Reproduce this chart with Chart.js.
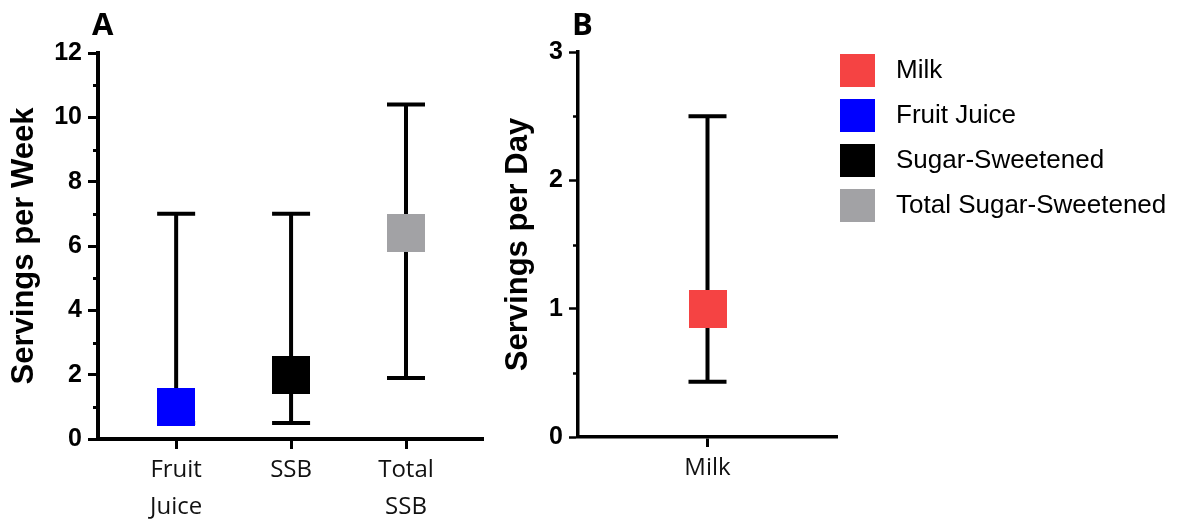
<!DOCTYPE html>
<html>
<head>
<meta charset="utf-8">
<script src="https://cdn.jsdelivr.net/npm/chart.js@4.4.1/dist/chart.umd.min.js"></script>
<style>
  body { margin: 0; background: #fff; overflow: hidden; }
  #wrap { position: relative; width: 1184px; height: 519px; overflow: hidden; background: #fff; }
  canvas { position: absolute; top: 0; }
  #chartA { left: 0; }
  #chartB { left: 490px; }
  #legendChart { left: 780px; }
</style>
</head>
<body>
<div id="wrap">
  <canvas id="chartA" width="530" height="519"></canvas>
  <canvas id="chartB" width="390" height="519"></canvas>
  <canvas id="legendChart" width="520" height="260"></canvas>
</div>
<script>
// Panel A - servings per week
const categoriesA = ['Fruit Juice', 'SSB', 'Total SSB'];
const medianA = [1.0, 2.0, 6.4];
const lowA = [0.5, 0.5, 1.9];
const highA = [7.0, 7.0, 10.4];
const colorsA = ['#0000ff', '#000000', '#a2a2a5'];
const yMaxA = 12;
const yStepA = 2;

// Panel B - servings per day
const categoriesB = ['Milk'];
const medianB = [1.0];
const lowB = [0.43];
const highB = [2.5];
const colorsB = ['#f54343'];
const yMaxB = 3;
const yStepB = 1;

// Legend
const legendLabels = ['Milk', 'Fruit Juice', 'Sugar-Sweetened', 'Total Sugar-Sweetened'];
const legendColors = ['#f54343', '#0000ff', '#000000', '#a2a2a5'];

// square marker drawn as a small canvas
function makeSquare(color, w, h) {
    const c = document.createElement('canvas');
    c.width = w;
    c.height = h;
    const g = c.getContext('2d');
    g.fillStyle = color;
    g.fillRect(0, 0, w, h);
    return c;
}

// whiskers behind the squares + minor ticks on the y axis
const whiskers = {
    id: 'whiskers',
    beforeDatasetsDraw(chart, args, opts) {
        const ctx = chart.ctx;
        const yScale = chart.scales.y;
        chart.data.datasets.forEach((ds, di) => {
            const meta = chart.getDatasetMeta(di);
            meta.data.forEach((pt, i) => {
                const top = yScale.getPixelForValue(ds.high[i]);
                const bottom = yScale.getPixelForValue(ds.low[i]);
                const half = opts.capHalf;
                ctx.save();
                ctx.strokeStyle = '#000';
                ctx.lineWidth = opts.lineWidth;
                ctx.beginPath();
                ctx.moveTo(pt.x, top);
                ctx.lineTo(pt.x, bottom);
                ctx.moveTo(pt.x - half, top);
                ctx.lineTo(pt.x + half, top);
                ctx.moveTo(pt.x - half, bottom);
                ctx.lineTo(pt.x + half, bottom);
                ctx.stroke();
                ctx.restore();
            });
        });
    },
    afterDraw(chart, args, opts) {
        const ctx = chart.ctx;
        const yScale = chart.scales.y;
        const left = chart.chartArea.left;
        const ticks = yScale.ticks;
        ctx.save();
        ctx.strokeStyle = '#000';
        ctx.lineWidth = opts.minorWidth;
        ctx.beginPath();
        for (let i = 0; i < ticks.length - 1; i++) {
            const v = (ticks[i].value + ticks[i + 1].value) / 2;
            const py = Math.round(yScale.getPixelForValue(v)) + 0.5;
            ctx.moveTo(left - opts.minorLength, py);
            ctx.lineTo(left, py);
        }
        ctx.stroke();
        ctx.restore();
    }
};

// panel letter (A / B)
const panelLabel = {
    id: 'panelLabel',
    afterDraw(chart, args, opts) {
        const ctx = chart.ctx;
        ctx.save();
        ctx.font = 'bold 31px "Open Sans"';
        ctx.fillStyle = '#000';
        ctx.textBaseline = 'alphabetic';
        ctx.fillText(opts.text, opts.x, opts.y);
        ctx.restore();
    }
};

function buildPanel(canvasId, cfg) {
    const markers = cfg.colors.map(c => makeSquare(c, 38, 38));
    return new Chart(document.getElementById(canvasId), {
        type: 'scatter',
        data: {
            datasets: [{
                data: cfg.categories.map((c, i) => ({ x: i, y: cfg.median[i] })),
                low: cfg.low,
                high: cfg.high,
                pointStyle: ctx => markers[ctx.dataIndex],
                pointRadius: 19,
                pointHoverRadius: 19
            }]
        },
        options: {
            responsive: false,
            animation: false,
            devicePixelRatio: 1,
            layout: { padding: cfg.padding },
            scales: {
                x: {
                    type: 'linear',
                    min: cfg.xMin,
                    max: cfg.xMax,
                    afterBuildTicks: axis => { axis.ticks = cfg.categories.map((c, i) => ({ value: i })); },
                    afterFit: axis => { axis.height = cfg.xHeight; },
                    grid: { drawOnChartArea: false, drawTicks: true, tickLength: 10, tickWidth: 3, tickColor: '#000' },
                    border: { display: true, color: '#000', width: cfg.axisWidth },
                    ticks: {
                        autoSkip: false,
                        maxRotation: 0,
                        padding: 2,
                        color: '#111',
                        font: { family: '"Open Sans"', size: 24, lineHeight: 1.56 },
                        callback: (value, index) => cfg.categories[index].split(' ')
                    }
                },
                y: {
                    min: 0,
                    max: cfg.yMax,
                    afterFit: axis => { axis.width = cfg.yWidth; },
                    grid: { drawOnChartArea: false, drawTicks: true, tickLength: cfg.tickLength, tickWidth: cfg.tickWidth, tickColor: '#000' },
                    border: { display: true, color: '#000', width: cfg.axisWidth },
                    ticks: {
                        stepSize: cfg.yStep,
                        padding: 6,
                        color: '#000',
                        font: { family: '"Liberation Sans"', size: 25, weight: 'bold' }
                    },
                    title: {
                        display: true,
                        text: cfg.yTitle,
                        color: '#000',
                        padding: { top: cfg.titlePad, bottom: 0 },
                        font: { family: '"Liberation Sans"', size: 31, weight: 'bold', lineHeight: 1.2 }
                    }
                }
            },
            plugins: {
                legend: { display: false },
                tooltip: { enabled: false },
                whiskers: { lineWidth: 4, capHalf: 19, minorLength: 5, minorWidth: cfg.tickWidth },
                panelLabel: cfg.label
            }
        },
        plugins: [whiskers, panelLabel]
    });
}

buildPanel('chartA', {
    categories: categoriesA, median: medianA, low: lowA, high: highA, colors: colorsA,
    yMax: yMaxA, yStep: yStepA, yTitle: 'Servings per Week',
    xMin: -0.68, xMax: 2.67,
    padding: { left: 0, top: 53, right: 47, bottom: 0 },
    xHeight: 80, yWidth: 98, titlePad: 6,
    tickLength: 10, tickWidth: 3, axisWidth: 4,
    label: { text: 'A', x: 92, y: 35 }
});

buildPanel('chartB', {
    categories: categoriesB, median: medianB, low: lowB, high: highB, colors: colorsB,
    yMax: yMaxB, yStep: yStepB, yTitle: 'Servings per Day',
    xMin: -1, xMax: 1,
    padding: { left: 0, top: 52, right: 43, bottom: 0 },
    xHeight: 82, yWidth: 88, titlePad: 10,
    tickLength: 9, tickWidth: 2.5, axisWidth: 3.5,
    label: { text: 'B', x: 82, y: 35 }
});

// legend-only chart on the right
const legendMarkers = legendColors.map(c => makeSquare(c, 35, 33));
new Chart(document.getElementById('legendChart'), {
    type: 'scatter',
    data: { datasets: [] },
    options: {
        responsive: false,
        animation: false,
        devicePixelRatio: 1,
        layout: { padding: { left: 33, top: 38.5 } },
        scales: { x: { display: false }, y: { display: false } },
        plugins: {
            tooltip: { enabled: false },
            legend: {
                position: 'left',
                align: 'start',
                maxWidth: 460,
                labels: {
                    usePointStyle: true,
                    pointStyleWidth: 51,
                    padding: 19,
                    color: '#1a1a1a',
                    font: { family: '"Liberation Sans"', size: 26 },
                    generateLabels: () => legendLabels.map((text, i) => ({
                        text: text,
                        pointStyle: legendMarkers[i],
                        fillStyle: legendColors[i],
                        strokeStyle: legendColors[i],
                        lineWidth: 0,
                        hidden: false,
                        index: i
                    }))
                }
            }
        }
    }
});
</script>
</body>
</html>
